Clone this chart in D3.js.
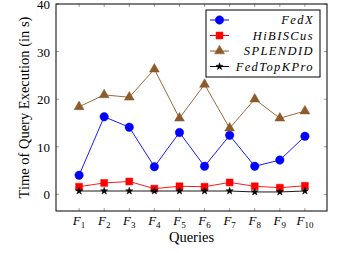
<!DOCTYPE html>
<html>
<head>
<meta charset="utf-8">
<script src="https://cdn.jsdelivr.net/npm/d3@7"></script>
<style>
  body { margin: 0; background: #fff; }
  text { font-family: "Liberation Serif", serif; }
</style>
</head>
<body>
<div id="chart"></div>
<script>
// queries F1..F10
const queries = [1, 2, 3, 4, 5, 6, 7, 8, 9, 10];
const fedx       = [4.0, 16.3, 14.1, 5.8, 13.0, 5.9, 12.4, 5.9, 7.2, 12.2];
const hibiscus   = [1.6, 2.4, 2.7, 1.2, 1.7, 1.6, 2.5, 1.7, 1.4, 1.8];
const splendid   = [18.4, 20.9, 20.4, 26.3, 16.0, 23.1, 13.9, 20.0, 16.0, 17.5];
const fedtopkpro = [0.7, 0.7, 0.7, 0.7, 0.7, 0.7, 0.7, 0.5, 0.5, 0.7];
const yTicks = [0, 10, 20, 30, 40];

const series = [
    {name: "FedX", values: fedx, color: "#0000ff", symbol: d3.symbolCircle, size: 56},
    {name: "HiBISCus", values: hibiscus, color: "#ff0000", symbol: d3.symbolSquare, size: 48},
    {name: "SPLENDID", values: splendid, color: "#8c5a2b", symbol: d3.symbolTriangle, size: 42},
    {name: "FedTopKPro", values: fedtopkpro, color: "#000000", symbol: d3.symbolStar, size: 16}
];

const W = 348, H = 253;
const margin = {top: 4, right: 21, bottom: 42, left: 56};
const width = W - margin.left - margin.right;
const height = H - margin.top - margin.bottom;

const svg = d3.select("#chart").append("svg")
    .attr("width", W).attr("height", H)
    .append("g")
    .attr("transform", "translate(" + margin.left + "," + margin.top + ")");

const x = d3.scaleLinear().domain([0.08, 10.88]).range([0, width]);
const y = d3.scaleLinear().domain([-3.5, 40]).range([height, 0]);

// inward ticks on all four sides
const tickLen = 3;
const tickColor = "#888";
queries.forEach(q => {
    svg.append("line").attr("x1", x(q)).attr("x2", x(q))
        .attr("y1", height).attr("y2", height - tickLen)
        .attr("stroke", tickColor).attr("stroke-width", 0.8);
    svg.append("line").attr("x1", x(q)).attr("x2", x(q))
        .attr("y1", 0).attr("y2", tickLen)
        .attr("stroke", tickColor).attr("stroke-width", 0.8);
    let t = svg.append("text")
        .attr("x", x(q)).attr("y", height + 14)
        .attr("text-anchor", "middle")
        .style("font-size", "13px").style("font-style", "italic");
    t.append("tspan").text("F");
    t.append("tspan").attr("dy", 3).style("font-size", "9px").style("font-style", "normal").text(q);
});
yTicks.forEach(v => {
    svg.append("line").attr("x1", 0).attr("x2", tickLen)
        .attr("y1", y(v)).attr("y2", y(v))
        .attr("stroke", tickColor).attr("stroke-width", 0.8);
    svg.append("line").attr("x1", width).attr("x2", width - tickLen)
        .attr("y1", y(v)).attr("y2", y(v))
        .attr("stroke", tickColor).attr("stroke-width", 0.8);
    svg.append("text")
        .attr("x", -6).attr("y", y(v)).attr("dy", "0.38em")
        .attr("text-anchor", "end")
        .style("font-size", "13px")
        .text(v);
});

// frame
svg.append("rect").attr("width", width).attr("height", height)
    .attr("fill", "none").attr("stroke", "#000").attr("stroke-width", 1);

// lines and markers
const line = d3.line()
    .x((d, i) => x(queries[i]))
    .y(d => y(d));

series.forEach(s => {
    svg.append("path")
        .datum(s.values)
        .attr("fill", "none")
        .attr("stroke", s.color)
        .attr("stroke-width", 0.9)
        .attr("d", line);
    svg.selectAll(null)
        .data(s.values)
        .enter()
        .append("path")
        .attr("transform", (d, i) => "translate(" + x(queries[i]) + "," + y(d) + ")")
        .attr("d", d3.symbol().type(s.symbol).size(s.size))
        .attr("fill", s.color)
        .attr("stroke", s.color)
        .attr("stroke-width", 0.5);
});

// axis labels
svg.append("text")
    .attr("transform", "rotate(-90)")
    .attr("x", -height / 2)
    .attr("y", -27)
    .attr("text-anchor", "middle")
    .style("font-size", "14.5px")
    .text("Time of Query Execution (in s)");

svg.append("text")
    .attr("x", width / 2)
    .attr("y", height + 31)
    .attr("text-anchor", "middle")
    .style("font-size", "14.5px")
    .text("Queries");

// legend
const lx = 206 - margin.left, ly = 10 - margin.top;
const legend = svg.append("g").attr("transform", "translate(" + lx + "," + ly + ")");
legend.append("rect").attr("width", 114).attr("height", 67)
    .attr("fill", "#fff").attr("stroke", "#000").attr("stroke-width", 1);
series.forEach((s, i) => {
    const ry = 10 + i * 15.5;
    legend.append("line").attr("x1", 4).attr("x2", 23)
        .attr("y1", ry).attr("y2", ry)
        .attr("stroke", s.color).attr("stroke-width", 1);
    legend.append("path")
        .attr("transform", "translate(13.5," + ry + ")")
        .attr("d", d3.symbol().type(s.symbol).size(s.size))
        .attr("fill", s.color).attr("stroke", s.color).attr("stroke-width", 0.5);
    legend.append("text")
        .attr("x", 108).attr("y", ry).attr("dy", "0.35em")
        .attr("text-anchor", "end")
        .style("font-size", "12.5px")
        .style("font-style", "italic")
        .style("letter-spacing", "1.4px")
        .text(s.name);
});
</script>
</body>
</html>
